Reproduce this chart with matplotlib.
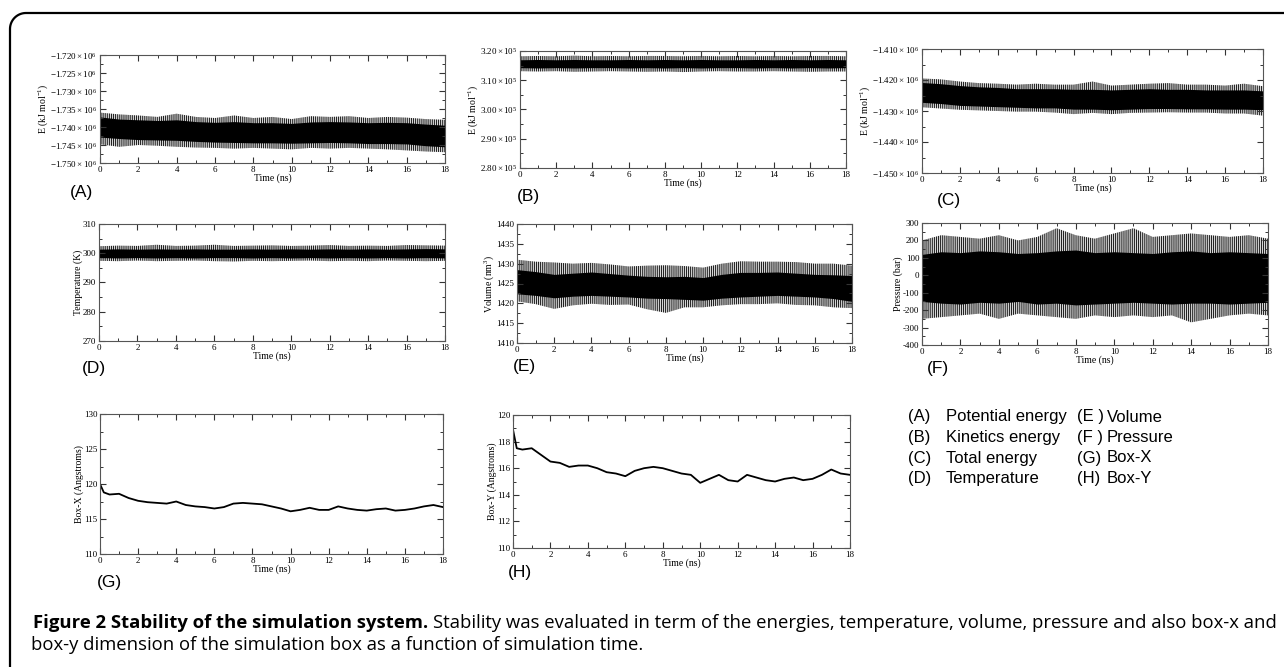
import numpy as np
import matplotlib
matplotlib.use("Agg")
import matplotlib.pyplot as plt
from matplotlib.ticker import MultipleLocator, FuncFormatter

W, H = 1284, 667

# ---------------- data ----------------
T = list(range(19))  # ns

# (A) potential energy, kJ/mol
A_core_hi = [-1.7372e6, -1.7378e6, -1.7380e6, -1.7382e6, -1.7380e6, -1.7385e6, -1.7387e6, -1.7385e6, -1.7388e6, -1.7388e6,
             -1.7390e6, -1.7386e6, -1.7385e6, -1.7386e6, -1.7388e6, -1.7387e6, -1.7388e6, -1.7392e6, -1.7395e6]
A_core_lo = [-1.7428e6, -1.7432e6, -1.7435e6, -1.7436e6, -1.7437e6, -1.7440e6, -1.7442e6, -1.7443e6, -1.7444e6, -1.7444e6,
             -1.7445e6, -1.7444e6, -1.7443e6, -1.7444e6, -1.7446e6, -1.7446e6, -1.7447e6, -1.7452e6, -1.7455e6]
A_spk_hi = [-1.7360e6, -1.7365e6, -1.7368e6, -1.7372e6, -1.7363e6, -1.7372e6, -1.7375e6, -1.7368e6, -1.7375e6, -1.7372e6,
            -1.7378e6, -1.7370e6, -1.7372e6, -1.7370e6, -1.7375e6, -1.7372e6, -1.7374e6, -1.7378e6, -1.7380e6]
A_spk_lo = [-1.7448e6, -1.7455e6, -1.7450e6, -1.7452e6, -1.7455e6, -1.7457e6, -1.7458e6, -1.7460e6, -1.7458e6, -1.7460e6,
            -1.7462e6, -1.7458e6, -1.7460e6, -1.7458e6, -1.7460e6, -1.7462e6, -1.7465e6, -1.7468e6, -1.7470e6]

# (B) kinetic energy, kJ/mol
B_core_hi = [3.170e5, 3.171e5, 3.170e5, 3.171e5, 3.170e5, 3.170e5, 3.171e5, 3.170e5, 3.171e5, 3.170e5,
             3.171e5, 3.170e5, 3.170e5, 3.171e5, 3.170e5, 3.171e5, 3.170e5, 3.171e5, 3.170e5]
B_core_lo = [3.143e5, 3.142e5, 3.143e5, 3.142e5, 3.143e5, 3.143e5, 3.142e5, 3.143e5, 3.142e5, 3.143e5,
             3.142e5, 3.143e5, 3.143e5, 3.142e5, 3.143e5, 3.142e5, 3.143e5, 3.142e5, 3.143e5]
B_spk_hi = [3.182e5, 3.183e5, 3.182e5, 3.184e5, 3.182e5, 3.183e5, 3.182e5, 3.183e5, 3.183e5, 3.182e5,
            3.183e5, 3.182e5, 3.183e5, 3.182e5, 3.183e5, 3.182e5, 3.183e5, 3.183e5, 3.182e5]
B_spk_lo = [3.131e5, 3.130e5, 3.131e5, 3.129e5, 3.130e5, 3.131e5, 3.130e5, 3.129e5, 3.130e5, 3.128e5,
            3.130e5, 3.131e5, 3.130e5, 3.130e5, 3.131e5, 3.130e5, 3.129e5, 3.130e5, 3.130e5]

# (C) total energy, kJ/mol
C_core_hi = [-1.4208e6, -1.4212e6, -1.4218e6, -1.4222e6, -1.4224e6, -1.4228e6, -1.4228e6, -1.4228e6, -1.4230e6, -1.4230e6,
             -1.4232e6, -1.4230e6, -1.4228e6, -1.4230e6, -1.4230e6, -1.4232e6, -1.4232e6, -1.4232e6, -1.4235e6]
C_core_lo = [-1.4272e6, -1.4276e6, -1.4282e6, -1.4284e6, -1.4286e6, -1.4288e6, -1.4290e6, -1.4290e6, -1.4294e6, -1.4294e6,
             -1.4296e6, -1.4294e6, -1.4292e6, -1.4292e6, -1.4293e6, -1.4293e6, -1.4294e6, -1.4294e6, -1.4296e6]
C_spk_hi = [-1.4195e6, -1.4198e6, -1.4205e6, -1.4210e6, -1.4212e6, -1.4215e6, -1.4212e6, -1.4215e6, -1.4215e6, -1.4205e6,
            -1.4218e6, -1.4215e6, -1.4212e6, -1.4210e6, -1.4215e6, -1.4215e6, -1.4218e6, -1.4212e6, -1.4220e6]
C_spk_lo = [-1.4288e6, -1.4292e6, -1.4296e6, -1.4298e6, -1.4300e6, -1.4302e6, -1.4302e6, -1.4305e6, -1.4310e6, -1.4306e6,
            -1.4310e6, -1.4306e6, -1.4305e6, -1.4304e6, -1.4305e6, -1.4305e6, -1.4308e6, -1.4308e6, -1.4315e6]

# (D) temperature, K
D_core_hi = [301.4, 301.5, 301.4, 301.5, 301.4, 301.5, 301.4, 301.4, 301.5, 301.4,
             301.5, 301.4, 301.5, 301.4, 301.5, 301.4, 301.5, 301.6, 301.5]
D_core_lo = [298.5, 298.4, 298.5, 298.4, 298.5, 298.4, 298.5, 298.5, 298.4, 298.5,
             298.4, 298.5, 298.4, 298.5, 298.4, 298.5, 298.4, 298.5, 298.4]
D_spk_hi = [302.4, 302.6, 302.5, 302.9, 302.5, 302.6, 302.9, 302.5, 302.6, 302.7,
            302.5, 302.6, 302.8, 302.5, 302.6, 302.5, 302.8, 302.7, 302.6]
D_spk_lo = [297.4, 297.3, 297.5, 297.3, 297.4, 297.5, 297.3, 297.2, 297.4, 297.3,
            297.4, 297.5, 297.3, 297.4, 297.3, 297.5, 297.4, 297.3, 297.4]

# (E) volume, nm^3
E_core_hi = [1428.5, 1428.0, 1427.3, 1427.6, 1427.9, 1427.5, 1427.1, 1426.8, 1426.7, 1426.8,
             1426.5, 1427.3, 1427.8, 1427.8, 1427.9, 1427.6, 1427.3, 1427.2, 1427.0]
E_core_lo = [1422.4, 1422.0, 1421.4, 1421.8, 1422.0, 1421.8, 1421.6, 1421.3, 1421.2, 1421.0,
             1420.8, 1421.3, 1421.6, 1421.8, 1422.0, 1421.8, 1421.6, 1421.2, 1420.5]
E_spk_hi = [1431.0, 1430.5, 1430.3, 1430.0, 1430.2, 1429.8, 1429.3, 1429.5, 1429.6, 1429.4,
            1429.0, 1430.0, 1430.6, 1430.5, 1430.5, 1430.4, 1430.0, 1430.0, 1429.5]
E_spk_lo = [1420.5, 1419.8, 1418.6, 1419.5, 1419.9, 1419.6, 1419.7, 1418.5, 1417.6, 1419.0,
            1419.0, 1419.5, 1419.8, 1419.8, 1420.0, 1419.6, 1419.5, 1419.0, 1418.8]

# (F) pressure, bar
F_core_hi = [120, 135, 130, 140, 135, 125, 130, 140, 145, 130, 135, 130, 125, 135, 140, 130, 135, 130, 125]
F_core_lo = [-150, -160, -165, -155, -160, -150, -165, -160, -170, -165, -160, -155, -160, -165, -160, -160, -165, -160, -155]
F_spk_hi = [200, 230, 220, 210, 230, 200, 220, 270, 230, 210, 240, 270, 220, 230, 240, 230, 220, 230, 210]
F_spk_lo = [-250, -240, -230, -220, -250, -220, -230, -240, -250, -230, -240, -230, -240, -230, -270, -250, -230, -220, -230]

# (G) Box-X and (H) Box-Y, Angstroms
TB = [0.0, 0.2, 0.5, 1.0, 1.5, 2.0, 2.5, 3.0, 3.5, 4.0, 4.5, 5.0, 5.5, 6.0, 6.5, 7.0, 7.5, 8.0, 8.5,
      9.0, 9.5, 10.0, 10.5, 11.0, 11.5, 12.0, 12.5, 13.0, 13.5, 14.0, 14.5, 15.0, 15.5, 16.0, 16.5,
      17.0, 17.5, 18.0]
G_box = [120.0, 118.8, 118.5, 118.6, 118.0, 117.6, 117.4, 117.3, 117.2, 117.5, 117.0, 116.8, 116.7, 116.5, 116.7,
         117.2, 117.3, 117.2, 117.1, 116.8, 116.5, 116.1, 116.3, 116.6, 116.3, 116.3, 116.8, 116.5, 116.3,
         116.2, 116.4, 116.5, 116.2, 116.3, 116.5, 116.8, 117.0, 116.7]
H_box = [118.9, 117.5, 117.4, 117.5, 117.0, 116.5, 116.4, 116.1, 116.2, 116.2, 116.0, 115.7, 115.6, 115.4, 115.8,
         116.0, 116.1, 116.0, 115.8, 115.6, 115.5, 114.9, 115.2, 115.5, 115.1, 115.0, 115.5, 115.3, 115.1,
         115.0, 115.2, 115.3, 115.1, 115.2, 115.5, 115.9, 115.6, 115.5]

# ---------------- figure ----------------
plt.rcParams["font.family"] = ["Liberation Serif", "DejaVu Serif"]
plt.rcParams["mathtext.fontset"] = "custom"
plt.rcParams["mathtext.rm"] = "Liberation Serif"
plt.rcParams["mathtext.it"] = "Liberation Serif:italic"
plt.rcParams["mathtext.bf"] = "Liberation Serif:bold"
plt.rcParams["hatch.linewidth"] = 0.6
plt.rcParams["hatch.color"] = "black"

fig = plt.figure(figsize=(W / 100, H / 100), dpi=100)
fig.patch.set_facecolor("white")

# outer rounded frame (top-left corner only visible)
r = 16
xl, yt = 10, 13
ang = np.linspace(np.pi, np.pi / 2, 20)
fx = [xl, xl] + list(xl + r + r * np.cos(ang)) + [W + 5]
fy = [H + 5, yt + r] + list(yt + r - r * np.sin(ang)) + [yt]
fig.add_artist(plt.Line2D([v / W for v in fx], [1 - v / H for v in fy],
                          transform=fig.transFigure, color="black", lw=1.6))


def add_ax(x0, y0, x1, y1):
    return fig.add_axes([x0 / W, 1 - y1 / H, (x1 - x0) / W, (y1 - y0) / H])


def style(ax, ylim, ymaj, ymin, fmt, ylabel):
    ax.set_xlim(0, 18)
    ax.set_ylim(*ylim)
    ax.xaxis.set_major_locator(MultipleLocator(2))
    ax.xaxis.set_minor_locator(MultipleLocator(1))
    ax.yaxis.set_major_locator(MultipleLocator(ymaj))
    ax.yaxis.set_minor_locator(MultipleLocator(ymin))
    ax.yaxis.set_major_formatter(FuncFormatter(fmt))
    for s in ax.spines.values():
        s.set_color("#555555")
        s.set_linewidth(0.8)
        s.set_zorder(5)
    ax.tick_params(which="both", direction="in", top=True, right=True,
                   colors="#333333", labelcolor="black", labelsize=6.5, pad=2)
    ax.tick_params(which="major", length=4, width=0.8)
    ax.tick_params(which="minor", length=2, width=0.7)
    ax.set_xlabel("Time (ns)", fontsize=7, labelpad=0)
    ax.set_ylabel(ylabel, fontsize=7, labelpad=0)


def band(ax, t, shi, slo, chi, clo):
    # sparse spikes beyond the dense core, drawn as fine vertical hatching
    ax.fill_between(t, slo, shi, facecolor="#8a8a8a", alpha=0.35, lw=0)
    ax.fill_between(t, slo, shi, facecolor="none", edgecolor="black", hatch="||||||||", lw=0)
    ax.fill_between(t, clo, chi, color="black", lw=0)


def sci(exp, dec):
    return lambda v, p: r"$%s\times10^{%d}$" % (("%." + str(dec) + "f") % (v / 10 ** exp), exp)


plain = lambda v, p: "%d" % round(v)

axA = add_ax(100, 55, 445, 163)
band(axA, T, A_spk_hi, A_spk_lo, A_core_hi, A_core_lo)
style(axA, (-1.750e6, -1.720e6), 0.005e6, 0.0025e6, sci(6, 3), r"E (kJ mol$^{-1}$)")

axB = add_ax(520, 51, 846, 168)
band(axB, T, B_spk_hi, B_spk_lo, B_core_hi, B_core_lo)
style(axB, (2.80e5, 3.20e5), 0.1e5, 0.05e5, sci(5, 2), r"E (kJ mol$^{-1}$)")

axC = add_ax(922, 49, 1263, 173)
band(axC, T, C_spk_hi, C_spk_lo, C_core_hi, C_core_lo)
style(axC, (-1.450e6, -1.410e6), 0.010e6, 0.005e6, sci(6, 3), r"E (kJ mol$^{-1}$)")

axD = add_ax(99, 224, 445, 341)
band(axD, T, D_spk_hi, D_spk_lo, D_core_hi, D_core_lo)
style(axD, (270, 310), 10, 5, plain, "Temperature (K)")

axE = add_ax(517, 224, 852, 343)
band(axE, T, E_spk_hi, E_spk_lo, E_core_hi, E_core_lo)
style(axE, (1410, 1440), 5, 2.5, plain, r"Volume (nm$^{3}$)")

axF = add_ax(922, 223, 1268, 345)
band(axF, T, F_spk_hi, F_spk_lo, F_core_hi, F_core_lo)
style(axF, (-400, 300), 100, 50, plain, "Pressure (bar)")

axG = add_ax(100, 414, 443, 554)
axG.plot(TB, G_box, color="black", lw=1.3)
style(axG, (110, 130), 5, 2.5, plain, "Box-X (Angstroms)")

axH = add_ax(513, 415, 850, 548)
axH.plot(TB, H_box, color="black", lw=1.3)
style(axH, (110, 120), 2, 1, plain, "Box-Y (Angstroms)")

# panel letters
sans = ["Liberation Sans", "DejaVu Sans"]
for lab, x, y in [("(A)", 70, 193), ("(B)", 517, 197), ("(C)", 937, 200),
                  ("(D)", 82, 368), ("(E)", 513, 367), ("(F)", 927, 368),
                  ("(G)", 97, 583), ("(H)", 508, 573)]:
    fig.text(x / W, 1 - y / H, lab, family=sans, fontsize=12.5, va="center", ha="left")

# legend text block
legend_rows = [("(A)", "Potential energy", "(E )", "Volume"),
               ("(B)", "Kinetics energy", "(F )", "Pressure"),
               ("(C)", "Total energy", "(G)", "Box-X"),
               ("(D)", "Temperature", "(H)", "Box-Y")]
for i, (a, b, c, d) in enumerate(legend_rows):
    y = 1 - (417 + i * 20.5) / H
    fig.text(908 / W, y, a, family=sans, fontsize=12, va="center")
    fig.text(946 / W, y, b, family=sans, fontsize=12, va="center")
    fig.text(1077 / W, y, c, family=sans, fontsize=12, va="center")
    fig.text(1107 / W, y, d, family=sans, fontsize=12, va="center")

# caption
cap_font = ["Open Sans", "DejaVu Sans"]
cap_size = 13.3
t1 = fig.text(33 / W, 1 - 628 / H, "Figure 2 Stability of the simulation system.",
              family=cap_font, fontsize=cap_size, weight="bold", va="baseline")
fig.canvas.draw()
bb = t1.get_window_extent(renderer=fig.canvas.get_renderer())
fig.text(bb.x1 / W + 5 / W, 1 - 628 / H,
         "Stability was evaluated in term of the energies, temperature, volume, pressure and also box-x and",
         family=cap_font, fontsize=cap_size, va="baseline")
fig.text(31 / W, 1 - 650 / H, "box-y dimension of the simulation box as a function of simulation time.",
         family=cap_font, fontsize=cap_size, va="baseline")

fig.savefig("out.png", dpi=100, facecolor="white")
